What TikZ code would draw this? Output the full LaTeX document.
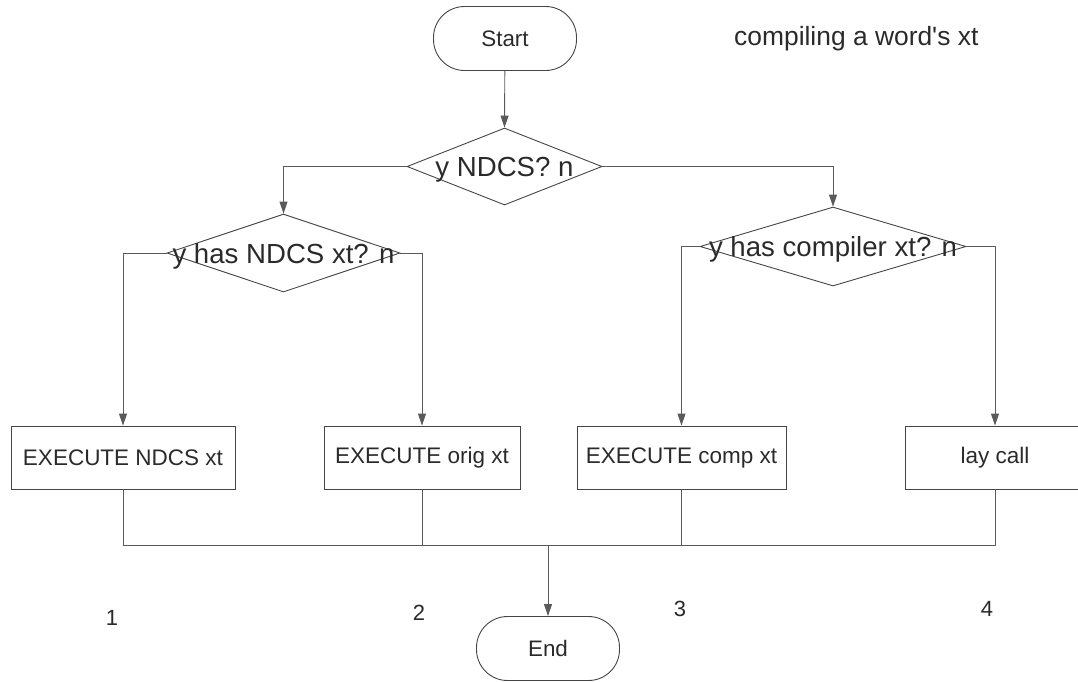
\documentclass[tikz,border=0pt]{standalone}
\usepackage{fontspec}
\setmainfont{Liberation Sans}
\newfontfamily\plainsans{Liberation Sans}
\usetikzlibrary{shapes.geometric,arrows.meta}
\definecolor{txt}{HTML}{2A2A2A}
\definecolor{edge}{HTML}{454545}
\definecolor{conn}{HTML}{5A5A5A}
\tikzset{
  term/.style={draw=edge, line width=0.9pt, rectangle, rounded corners=31pt, minimum width=143pt, minimum height=64pt, inner sep=0pt, text=txt, font=\fontsize{22.4}{26}\selectfont},
  decide/.style={draw=edge, line width=0.9pt, diamond, inner sep=0pt},
  decidelbl/.style={text=txt, font=\fontsize{27.6}{32}\selectfont, inner sep=0pt},
  proc/.style={draw=edge, line width=0.9pt, rectangle, minimum height=63pt, inner sep=0pt, text=txt, font=\fontsize{22.5}{26}\selectfont},
  numlbl/.style={text=txt, font=\fontsize{22}{26}\selectfont, inner sep=0pt},
  conn/.style={draw=conn, line width=0.9pt},
  flow/.style={conn, -{Triangle[length=12pt,width=8pt]}}
}
\begin{document}
\begin{tikzpicture}[x=1pt,y=-1pt]
\useasboundingbox (0,0) rectangle (1078,681);
\node[term] (start) at (505,38.5) {Start};
\node[anchor=west, text=txt, font=\plainsans\fontsize{26.4}{31}\selectfont, inner sep=0pt] (title) at (734,39) {compiling a word's xt};
\node[decide, minimum width=195pt, minimum height=77pt] (d1) at (504.5,166.5) {};
\node[decide, minimum width=233pt, minimum height=78pt] (d2) at (283.5,253) {};
\node[decide, minimum width=266pt, minimum height=79pt] (d3) at (833,246.5) {};
\node[decidelbl] (d1t) at ([yshift=-3pt]d1.center) {y NDCS? n};
\node[decidelbl] (d2t) at ([yshift=-3pt]d2.center) {y has NDCS xt? n};
\node[decidelbl] (d3t) at ([yshift=-3pt]d3.center) {y has compiler xt? n};
\node[proc, minimum width=224pt] (b1) at (123,457.5) {EXECUTE NDCS xt};
\node[proc, minimum width=196pt] (b2) at (422,457.5) {EXECUTE orig xt};
\node[proc, minimum width=209pt] (b3) at (681.5,457.5) {EXECUTE comp xt};
\node[proc, minimum width=180pt] (b4) at (995,457.5) {lay call};
\node[term] (end) at (548,648.5) {End};
\node[numlbl] (n1) at (112,618) {1};
\node[numlbl] (n2) at (419,613) {2};
\node[numlbl] (n3) at (680,609) {3};
\node[numlbl] (n4) at (987,609) {4};
\coordinate (merge) at (548,545.7);
\draw[flow] (start) -- (d1.north);
\draw[flow] (d1.west) -| (d2.north);
\draw[flow] (d1.east) -| (d3.north);
\draw[flow] (d2.west) -| (b1.north);
\draw[flow] (d2.east) -| (b2.north);
\draw[flow] (d3.west) -| (b3.north);
\draw[flow] (d3.east) -| (b4.north);
\draw[conn] (b1.south) |- (merge);
\draw[conn] (b4.south) |- (merge);
\draw[conn] (b2.south) |- (merge);
\draw[conn] (b3.south) |- (merge);
\draw[flow] (merge) -- (end.north);
\end{tikzpicture}
\end{document}
